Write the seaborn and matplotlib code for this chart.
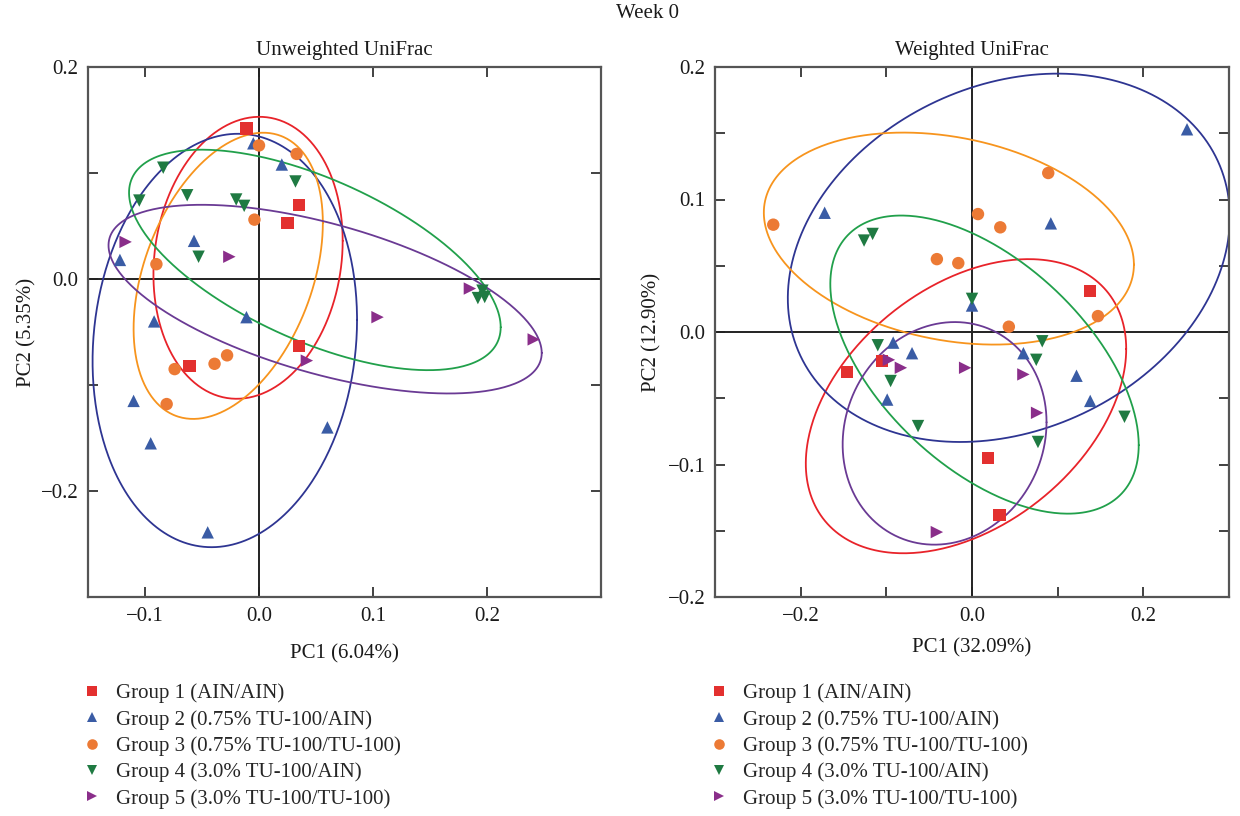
import numpy as np
import pandas as pd
import matplotlib
matplotlib.use("Agg")
import matplotlib.pyplot as plt
import seaborn as sns
from matplotlib.ticker import FixedLocator, FuncFormatter

# ---------------- data ----------------
groups = ["Group 1 (AIN/AIN)", "Group 2 (0.75% TU-100/AIN)",
          "Group 3 (0.75% TU-100/TU-100)", "Group 4 (3.0% TU-100/AIN)",
          "Group 5 (3.0% TU-100/TU-100)"]

# Unweighted UniFrac (PC1 6.04%, PC2 5.35%)
unw_g1_x = [-0.011, 0.035, 0.025, 0.035, -0.061]
unw_g1_y = [0.142, 0.070, 0.053, -0.063, -0.082]
unw_g2_x = [-0.005, 0.020, -0.057, -0.122, -0.011, -0.092, -0.110, -0.095, 0.060, -0.045]
unw_g2_y = [0.128, 0.108, 0.036, 0.018, -0.036, -0.040, -0.115, -0.155, -0.140, -0.239]
unw_g3_x = [0.000, 0.033, -0.004, -0.090, -0.074, -0.039, -0.028, -0.081]
unw_g3_y = [0.126, 0.118, 0.056, 0.014, -0.085, -0.080, -0.072, -0.118]
unw_g4_x = [-0.084, -0.105, -0.063, -0.020, -0.013, 0.032, -0.053, 0.192, 0.198, 0.196]
unw_g4_y = [0.105, 0.074, 0.079, 0.075, 0.069, 0.092, 0.021, -0.018, -0.017, -0.011]
unw_g5_x = [-0.117, -0.026, 0.185, 0.104, 0.042, 0.241]
unw_g5_y = [0.035, 0.021, -0.009, -0.036, -0.077, -0.057]

# Weighted UniFrac (PC1 32.09%, PC2 12.90%)
w_g1_x = [-0.146, -0.105, 0.019, 0.032, 0.138]
w_g1_y = [-0.030, -0.022, -0.095, -0.138, 0.031]
w_g2_x = [-0.172, 0.251, 0.092, 0.000, -0.092, -0.070, -0.099, 0.060, 0.122, 0.138]
w_g2_y = [0.090, 0.153, 0.082, 0.020, -0.008, -0.016, -0.051, -0.016, -0.033, -0.052]
w_g3_x = [-0.232, -0.041, -0.016, 0.007, 0.033, 0.089, 0.147, 0.043]
w_g3_y = [0.081, 0.055, 0.052, 0.089, 0.079, 0.120, 0.012, 0.004]
w_g4_x = [-0.126, -0.116, 0.000, -0.110, -0.095, -0.063, 0.082, 0.075, 0.178, 0.077]
w_g4_y = [0.069, 0.074, 0.025, -0.010, -0.037, -0.071, -0.007, -0.021, -0.064, -0.083]
w_g5_x = [-0.097, -0.083, -0.008, -0.041, 0.060, 0.076]
w_g5_y = [-0.021, -0.027, -0.027, -0.151, -0.032, -0.061]

# confidence ellipses: centre, half-ranges and correlation (per group)
unw_ell_cx = [-0.0096, -0.030, -0.027, 0.049, 0.058]
unw_ell_cy = [0.020, -0.058, 0.003, 0.018, -0.019]
unw_ell_rx = [0.083, 0.116, 0.083, 0.163, 0.190]
unw_ell_ry = [0.133, 0.195, 0.135, 0.104, 0.089]
unw_ell_rho = [0.12, 0.10, 0.37, -0.61, -0.57]

w_ell_cx = [-0.007, 0.043, -0.027, 0.0146, -0.032]
w_ell_cy = [-0.056, 0.056, 0.0705, -0.0246, -0.0765]
w_ell_rx = [0.187, 0.258, 0.216, 0.180, 0.119]
w_ell_ry = [0.111, 0.139, 0.080, 0.1125, 0.084]
w_ell_rho = [0.39, 0.22, -0.245, -0.54, 0.10]

# tick values
unw_xticks = [-0.1, 0.0, 0.1, 0.2]
unw_yticks_major = [-0.2, 0.0, 0.2]
unw_yticks_minor = [-0.1, 0.1]
w_xticks_major = [-0.2, 0.0, 0.2]
w_xticks_minor = [-0.1, 0.1]
w_yticks_major = [-0.2, -0.1, 0.0, 0.1, 0.2]
w_yticks_minor = [-0.15, -0.05, 0.05, 0.15]

# ---------------- styling ----------------
point_colors = ["#E3302F", "#3A5CA5", "#EC7A35", "#1F7A42", "#8A2E8A"]
ellipse_colors = ["#E8232A", "#2E3592", "#F7941D", "#21A04B", "#6A3A94"]
markers = ["s", "^", "o", "v", ">"]

sns.set_theme(style="ticks")
plt.rcParams['font.family'] = ['Liberation Serif', 'DejaVu Serif']
plt.rcParams['axes.unicode_minus'] = True

def make_df(xs, ys):
    rows = []
    for g, x, y in zip(groups, xs, ys):
        for a, b in zip(x, y):
            rows.append({"PC1": a, "PC2": b, "Group": g})
    return pd.DataFrame(rows)

unw_df = make_df([unw_g1_x, unw_g2_x, unw_g3_x, unw_g4_x, unw_g5_x],
                 [unw_g1_y, unw_g2_y, unw_g3_y, unw_g4_y, unw_g5_y])
w_df = make_df([w_g1_x, w_g2_x, w_g3_x, w_g4_x, w_g5_x],
               [w_g1_y, w_g2_y, w_g3_y, w_g4_y, w_g5_y])

def fmt(v, p):
    if abs(v) < 1e-9:
        v = 0.0
    return f"{v:.1f}".replace("-", "\u2212")

FS = 15
W, H = 1240, 816
fig = plt.figure(figsize=(W / 100, H / 100), dpi=100)
ax1 = fig.add_axes([88 / W, 1 - 597 / H, (601 - 88) / W, (597 - 67) / H])
ax2 = fig.add_axes([715 / W, 1 - 597 / H, (1229 - 715) / W, (597 - 67) / H])

panels = [
    (ax1, unw_df, (unw_ell_cx, unw_ell_cy, unw_ell_rx, unw_ell_ry, unw_ell_rho),
     "Unweighted UniFrac", "PC1 (6.04%)", "PC2 (5.35%)", (-0.15, 0.30), (-0.30, 0.20),
     (unw_xticks, []), (unw_yticks_major, unw_yticks_minor), 13.5, 3),
    (ax2, w_df, (w_ell_cx, w_ell_cy, w_ell_rx, w_ell_ry, w_ell_rho),
     "Weighted UniFrac", "PC1 (32.09%)", "PC2 (12.90%)", (-0.30, 0.30), (-0.20, 0.20),
     (w_xticks_major, w_xticks_minor), (w_yticks_major, w_yticks_minor), 9, 4.5),
]

t = np.linspace(0, 2 * np.pi, 400)
for ax, df, ell, title, xl, yl, xlim, ylim, xt, yt, xlp, ylp in panels:
    ax.axhline(0, color="#222222", lw=1.4, zorder=1)
    ax.axvline(0, color="#222222", lw=1.4, zorder=1)
    cx, cy, rx, ry, rho = ell
    for i in range(len(groups)):
        d = np.arccos(rho[i])
        ex = cx[i] + rx[i] * np.cos(t)
        ey = cy[i] + ry[i] * np.cos(t + d)
        ax.plot(ex, ey, color=ellipse_colors[i], lw=1.3, zorder=2)
    sns.scatterplot(data=df, x="PC1", y="PC2", hue="Group", style="Group",
                    hue_order=groups, style_order=groups,
                    palette=dict(zip(groups, point_colors)),
                    markers=dict(zip(groups, markers)),
                    s=80, linewidth=0, ax=ax, zorder=3)
    ax.set_xlim(*xlim)
    ax.set_ylim(*ylim)
    ax.xaxis.set_major_locator(FixedLocator(xt[0]))
    ax.xaxis.set_minor_locator(FixedLocator(xt[1]))
    ax.yaxis.set_major_locator(FixedLocator(yt[0]))
    ax.yaxis.set_minor_locator(FixedLocator(yt[1]))
    ax.xaxis.set_major_formatter(FuncFormatter(fmt))
    ax.yaxis.set_major_formatter(FuncFormatter(fmt))
    ax.tick_params(which="both", direction="in", top=True, right=True,
                   length=7, width=1.3, color="#333333", labelsize=FS,
                   labelcolor="#1a1a1a", pad=7)
    for sp in ax.spines.values():
        sp.set_color("#555555")
        sp.set_linewidth(1.6)
    ax.set_title(title, fontsize=FS, pad=9, color="#1a1a1a")
    ax.set_xlabel(xl, fontsize=FS, labelpad=xlp, color="#1a1a1a")
    ax.set_ylabel(yl, fontsize=FS, labelpad=ylp, color="#1a1a1a")
    sns.move_legend(ax, "upper left", bbox_to_anchor=(-0.008, -0.163),
                    frameon=False, title=None, fontsize=FS, markerscale=0.85,
                    handlelength=0.8, handletextpad=0.75, labelspacing=0.32,
                    borderaxespad=0, borderpad=0)

fig.text(648 / W, 1 - 14 / H, "Week 0", ha="center", va="center",
         fontsize=FS, color="#1a1a1a")

fig.savefig("out.png", dpi=100)
